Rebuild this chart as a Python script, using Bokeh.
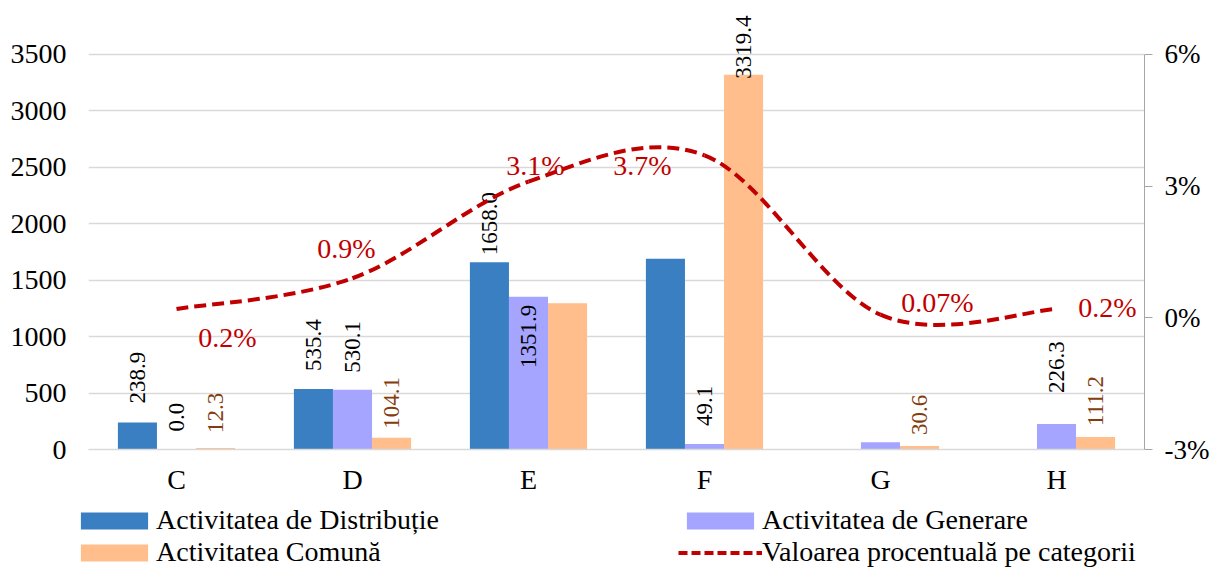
import math
from bokeh.plotting import figure
from bokeh.layouts import column
from bokeh.models import (ColumnDataSource, FactorRange, Range1d, LinearAxis, FixedTicker,
                          Legend, LegendItem, PrintfTickFormatter)
from bokeh.transform import dodge
from bokeh.core.properties import value
from bokeh.embed import file_html
from bokeh.resources import INLINE

# ---------------- data ----------------
categories = ["C", "D", "E", "F", "G", "H"]
distributie = [238.9, 535.4, 1658.0, 1690.0, 0.0, 0.0]
generare = [0.0, 530.1, 1351.9, 49.1, 65.0, 226.3]
comuna = [12.3, 104.1, 1296.0, 3319.4, 30.6, 111.2]
procent = [0.2, 0.9, 3.1, 3.7, 0.07, 0.2]
procent_labels = ["0.2%", "0.9%", "3.1%", "3.7%", "0.07%", "0.2%"]
left_ticks = [0, 500, 1000, 1500, 2000, 2500, 3000, 3500]
right_ticks = [-3, 0, 3, 6]

# which data labels are shown (as in the reference)
show_dist = [True, True, True, False, False, False]
show_gen = [True, True, True, True, False, True]
show_com = [True, True, False, True, True, True]

# ---------------- style / layout ----------------
FONT = "Liberation Serif"
FS = "28px"
FS_BAR = "23px"
BLUE = "#3A7FC2"
PURPLE = "#A5A5FF"
ORANGE = "#FFBE8C"
RED = "#C00000"
BROWN = "#843C0C"
GRID = "#D9D9D9"
BW = 0.222

# label pixel offsets from bar top (positive = above), and inside-bar flags
off_dist = [19, 18, 7, 0, 0, 0]
off_gen = [18, 17, 8, 18, 0, 31]
in_gen = [False, False, True, False, False, False]
off_com = [15, 9, 0, -4, 11, 11]
pct_dx = [51, -6, 7, -62, 57, 51]
pct_dy = [29, -30, -16, 10, -12, -1]

p = figure(x_range=FactorRange(*categories), y_range=Range1d(0, 3870.3),
           width=1212, height=497, output_backend="svg", toolbar_location=None,
           min_border_left=88, min_border_right=68, min_border_top=12, min_border_bottom=46)
p.extra_y_ranges = {"pct": Range1d(-3, 6.952)}
p.outline_line_color = None
p.background_fill_color = "white"
p.border_fill_color = "white"

# left axis
p.yaxis.ticker = FixedTicker(ticks=left_ticks)
p.yaxis.axis_line_color = None
p.yaxis.major_tick_line_color = None
p.yaxis.minor_tick_line_color = None
p.yaxis.major_tick_out = 0
p.yaxis.major_label_standoff = 22
p.yaxis.major_label_text_font = FONT
p.yaxis.major_label_text_font_size = FS
p.yaxis.major_label_text_color = "black"
p.ygrid.ticker = FixedTicker(ticks=left_ticks)
p.ygrid.grid_line_color = GRID
p.ygrid.grid_line_width = 1.5
p.xgrid.grid_line_color = None

# x axis
p.xaxis.axis_line_color = GRID
p.xaxis.axis_line_width = 1.5
p.xaxis.major_tick_line_color = None
p.xaxis.minor_tick_line_color = None
p.xaxis.major_tick_out = 0
p.xaxis.major_tick_in = 0
p.xaxis.major_label_standoff = 14
p.xaxis.major_label_text_font = FONT
p.xaxis.major_label_text_font_size = FS
p.xaxis.major_label_text_color = "black"

# right axis
right = LinearAxis(y_range_name="pct", ticker=FixedTicker(ticks=right_ticks),
                   formatter=PrintfTickFormatter(format="%d%%"), bounds=(-3, 6))
right.axis_line_color = "#A6A6A6"
right.major_tick_line_color = "#A6A6A6"
right.minor_tick_line_color = None
right.major_tick_in = 0
right.major_tick_out = 8
right.major_label_standoff = 12
right.major_label_text_font = FONT
right.major_label_text_font_size = "27px"
right.major_label_text_color = "black"
p.add_layout(right, "right")

# bars
src = ColumnDataSource(dict(cat=categories, d=distributie, g=generare, c=comuna))
p.vbar(x=dodge("cat", -BW, range=p.x_range), top="d", width=BW, source=src,
       fill_color=BLUE, line_color=None)
p.vbar(x=dodge("cat", 0.0, range=p.x_range), top="g", width=BW, source=src,
       fill_color=PURPLE, line_color=None)
p.vbar(x=dodge("cat", BW, range=p.x_range), top="c", width=BW, source=src,
       fill_color=ORANGE, line_color=None)


def label_source(vals, shows, offs, color, inside=None, override=None):
    cat, y, txt, yoff, align, col = [], [], [], [], [], []
    for i, (v, s, o) in enumerate(zip(vals, shows, offs)):
        if not s:
            continue
        cat.append(categories[i])
        y.append(v)
        txt.append("%.1f" % v)
        if inside and inside[i]:
            yoff.append(o)
            align.append("right")
        else:
            yoff.append(-o)
            align.append("left")
        c = color
        if override and i in override:
            c = override[i]
        col.append(c)
    return ColumnDataSource(dict(cat=cat, y=y, text=txt, yoff=yoff, align=align, col=col))


for vals, shows, offs, color, dx, ins, ov in [
    (distributie, show_dist, off_dist, "black", -BW, None, None),
    (generare, show_gen, off_gen, "black", 0.0, in_gen, None),
    (comuna, show_com, off_com, BROWN, BW, None, {3: "black"}),
]:
    ls = label_source(vals, shows, offs, color, ins, ov)
    p.text(x=dodge("cat", dx, range=p.x_range), y="y", text="text", source=ls,
           angle=math.pi / 2, text_align="align", text_baseline="middle",
           y_offset="yoff", text_font=value(FONT), text_font_size=FS_BAR, text_color="col")

# smoothed percentage line (Bezier segments, Catmull-Rom style control points)
xs = [i + 0.5 for i in range(len(categories))]
n = len(xs)
seg = dict(x0=[], y0=[], x1=[], y1=[], cx0=[], cy0=[], cx1=[], cy1=[])
for i in range(n - 1):
    a = max(i - 1, 0)
    d = min(i + 2, n - 1)
    seg["x0"].append(xs[i]); seg["y0"].append(procent[i])
    seg["x1"].append(xs[i + 1]); seg["y1"].append(procent[i + 1])
    seg["cx0"].append(xs[i] + (xs[i + 1] - xs[a]) / 6)
    seg["cy0"].append(procent[i] + (procent[i + 1] - procent[a]) / 6)
    seg["cx1"].append(xs[i + 1] - (xs[d] - xs[i]) / 6)
    seg["cy1"].append(procent[i + 1] - (procent[d] - procent[i]) / 6)
p.bezier(x0="x0", y0="y0", x1="x1", y1="y1", cx0="cx0", cy0="cy0", cx1="cx1", cy1="cy1",
         source=ColumnDataSource(seg), y_range_name="pct", line_color=RED,
         line_width=4, line_dash="12 6")

# percentage labels
psrc = ColumnDataSource(dict(cat=categories, v=procent, t=procent_labels, dx=pct_dx, dy=pct_dy))
p.text(x="cat", y="v", text="t", source=psrc, y_range_name="pct", x_offset="dx", y_offset="dy",
       text_align="center", text_baseline="middle", text_font=value(FONT),
       text_font_size=FS, text_color=RED)

# ---------------- legend strip (separate figure under the chart) ----------------
lf = figure(width=1212, height=72, output_backend="svg", toolbar_location=None,
            x_range=Range1d(0, 1), y_range=Range1d(0, 1),
            x_axis_location=None, y_axis_location=None,
            min_border_left=0, min_border_right=0, min_border_top=0, min_border_bottom=0)
if "frame_align" in lf.properties():
    lf.frame_align = False
if "frame_align" in p.properties():
    p.frame_align = False
lf.grid.visible = False
lf.outline_line_color = None
lf.background_fill_color = "white"
lf.border_fill_color = "white"
ld = lf.vbar(x=[5], top=[1], width=0.1, fill_color=BLUE, line_color=None)
lg = lf.vbar(x=[5], top=[1], width=0.1, fill_color=PURPLE, line_color=None)
lc = lf.vbar(x=[5], top=[1], width=0.1, fill_color=ORANGE, line_color=None)
lv = lf.line(x=[5, 6], y=[5, 6], line_color=RED, line_width=4, line_dash="9 4")


def make_legend(items, loc):
    leg = Legend(items=items, location=loc)
    leg.label_text_font = FONT
    leg.label_text_font_size = FS
    leg.label_text_color = "black"
    leg.glyph_width = 84
    leg.glyph_height = 21
    leg.label_height = 31
    leg.label_standoff = 0
    leg.spacing = 0
    leg.padding = 0
    leg.margin = 0
    leg.border_line_color = None
    leg.background_fill_alpha = 0
    return leg


lf.add_layout(make_legend([LegendItem(label="Activitatea de Distribuție", renderers=[ld]),
                           LegendItem(label="Activitatea Comună", renderers=[lc])], (72, 1)))
lf.add_layout(make_legend([LegendItem(label="Activitatea de Generare", renderers=[lg]),
                           LegendItem(label="Valoarea procentuală pe categorii", renderers=[lv])],
                          (678, 1)))

page = column(p, lf, spacing=0)
open("out.html", "w").write(file_html(page, INLINE))
